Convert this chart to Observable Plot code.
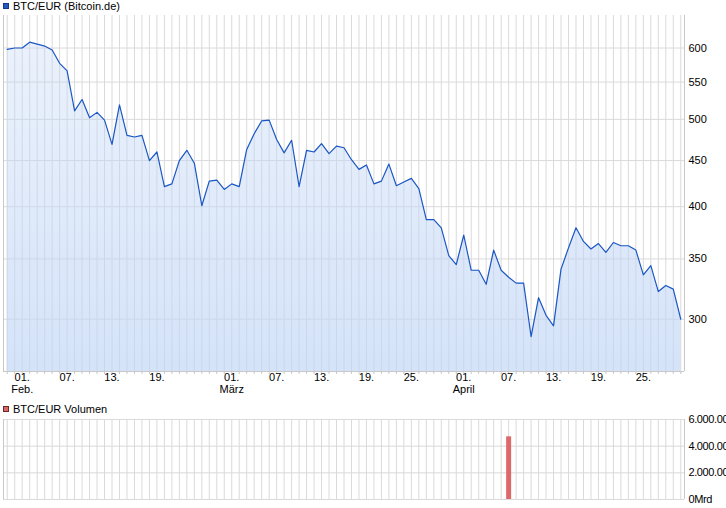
<!DOCTYPE html>
<html>
<head>
<meta charset="utf-8">
<script src="https://cdn.jsdelivr.net/npm/d3@7"></script>
<script src="https://cdn.jsdelivr.net/npm/@observablehq/plot@0.6"></script>
<style>
  body { margin:0; width:726px; height:508px; overflow:hidden; background:#fff; position:relative;
         font-family:"Liberation Sans", Arial, sans-serif; font-size:11px; color:#000; }
  .sw { position:absolute; left:3px; width:4px; height:4px; border:1px solid #333; }
  .lt { position:absolute; left:13px; height:13px; line-height:13px; white-space:nowrap; }
  #main { position:absolute; left:0; top:15px; }
  #vol { position:absolute; left:0; top:412px; }
  #vol text { letter-spacing:-0.4px; }
  svg { overflow:visible; }
</style>
</head>
<body>
<div class="sw" style="top:3px;background:#2359c4;border-color:#163a80"></div>
<div class="lt" style="top:0px">BTC/EUR (Bitcoin.de)</div>
<div id="main"></div>
<div class="sw" style="top:406px;background:#dc6666;border-color:#6a2a2a"></div>
<div class="lt" style="top:403px">BTC/EUR Volumen</div>
<div id="vol"></div>
<script>
// ---- data ----
const firstDay = "2014-01-30";
const lastDay = "2014-04-30";
const prices = [
  598, 600, 600, 609, 606, 603, 597, 577, 566, 511,
  526, 502, 509, 499, 469, 519, 480, 478, 480, 450,
  460, 421, 424, 450, 462, 447, 401, 427, 428, 418,
  424, 421, 463, 482, 498, 499, 475, 459, 474, 421,
  462, 460, 470, 458, 467, 465, 451, 440, 445, 424,
  427, 446, 422, 426, 430, 419, 387, 387, 379, 353,
  345, 372, 340, 340, 328, 358, 340, 334, 329, 329,
  287, 317, 303, 295, 341, 360, 379, 366, 359, 364,
  356, 365, 362, 362, 358, 336, 344, 322, 327, 324,
  300
];
const volumeDates = ["2014-04-07"];
const volumes = [4700000];
const priceTicks = [300, 350, 400, 450, 500, 550, 600];
const volumeTicks = [0, 2000000, 4000000, 6000000];
const dayTickDates = ["2014-02-01","2014-02-07","2014-02-13","2014-02-19",
                      "2014-03-01","2014-03-07","2014-03-13","2014-03-19","2014-03-25",
                      "2014-04-01","2014-04-07","2014-04-13","2014-04-19","2014-04-25"];
const dayTickLabels = ["01.","07.","13.","19.","01.","07.","13.","19.","25.","01.","07.","13.","19.","25."];
const monthTickDates = ["2014-02-01","2014-03-01","2014-04-01"];
const monthTickLabels = ["Feb.","März","April"];

// ---- derived tables ----
const days = d3.utcDay.range(new Date(firstDay), d3.utcDay.offset(new Date(lastDay), 1));
const priceData = prices.map((v, i) => ({date: days[i], v}));
const volData = volumeDates.map((d, i) => ({date: new Date(d), v: volumes[i]}));
const xDomain = [d3.utcHour.offset(days[0], -12), d3.utcHour.offset(days[days.length - 1], 12)];
const yDomain = [262.5, 652];

const font = {fontFamily: '"Liberation Sans", Arial, sans-serif', fontSize: "11px", background: "transparent", color: "#000", overflow: "visible"};
const grid = "#dadada";
const border = "#c8c8c8";

const main = Plot.plot({
  width: 726, height: 385,
  marginTop: 0, marginBottom: 29, marginLeft: 3, marginRight: 42,
  style: font,
  x: {type: "utc", domain: xDomain},
  y: {type: "log", domain: yDomain},
  marks: [
    Plot.ruleX(days, {stroke: grid}),
    Plot.ruleY(priceTicks, {stroke: grid}),
    Plot.areaY(priceData, {x: "date", y1: yDomain[0], y2: "v", fill: "url(#areaGrad)"}),
    Plot.lineY(priceData, {x: "date", y: "v", stroke: "#1b57c4", strokeWidth: 1.2}),
    Plot.ruleX(xDomain, {stroke: border}),
    Plot.ruleY([yDomain[0]], {stroke: border}),
    Plot.axisX({ticks: days, tickSize: 3, tickFormat: () => "", label: null, stroke: border}),
    Plot.axisY({anchor: "right", ticks: priceTicks, tickSize: 0, tickPadding: 4, tickFormat: d => String(d), label: null}),
    Plot.text(dayTickDates, {x: d => new Date(d), text: (d, i) => dayTickLabels[i], frameAnchor: "bottom", dy: 9, fill: "#000"}),
    Plot.text(monthTickDates, {x: d => new Date(d), text: (d, i) => monthTickLabels[i], frameAnchor: "bottom", dy: 21, fill: "#000"})
  ]
});

// gradient for the area
const defs = d3.select(main).insert("defs", ":first-child");
const g = defs.append("linearGradient").attr("id", "areaGrad").attr("x1", 0).attr("y1", 0).attr("x2", 0).attr("y2", 1);
g.append("stop").attr("offset", "0%").attr("stop-color", "rgb(193,214,246)").attr("stop-opacity", 0.33);
g.append("stop").attr("offset", "100%").attr("stop-color", "rgb(193,214,246)").attr("stop-opacity", 0.68);
document.getElementById("main").append(main);

const vol = Plot.plot({
  width: 726, height: 96,
  marginTop: 7, marginBottom: 9, marginLeft: 3, marginRight: 42,
  style: font,
  x: {type: "utc", domain: xDomain, axis: null},
  y: {domain: [0, 6000000]},
  marks: [
    Plot.ruleX(days, {stroke: grid}),
    Plot.ruleY(volumeTicks, {stroke: grid}),
    Plot.ruleX(xDomain, {stroke: border}),
    Plot.ruleX(volData, {x: "date", y1: 0, y2: "v", stroke: "#dc6a6a", strokeWidth: 5}),
    Plot.axisY({anchor: "right", ticks: volumeTicks, tickSize: 0, tickPadding: 4, label: null,
      tickFormat: d => d === 0 ? "0Mrd" : d3.format(",")(d).replace(/,/g, ".")})
  ]
});
document.getElementById("vol").append(vol);
</script>
</body>
</html>
